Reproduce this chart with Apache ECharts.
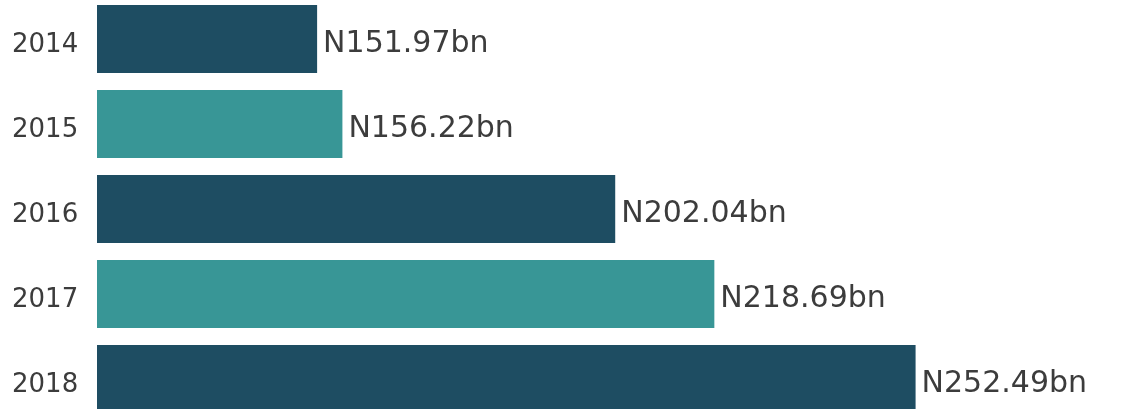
<!DOCTYPE html>
<html>
<head>
<meta charset="utf-8">
<script src="https://cdn.jsdelivr.net/npm/echarts@6/dist/echarts.min.js"></script>
<style>
  html, body { margin: 0; padding: 0; background: #fff; }
  #chart { width: 1127px; height: 409px; }
</style>
</head>
<body>
<div id="chart"></div>
<script>
  // years and amounts (billions)
  var years = ['2014', '2015', '2016', '2017', '2018'];
  var amounts = [151.97, 156.22, 202.04, 218.69, 252.49];
  var barColors = ['#1e4d62', '#389696', '#1e4d62', '#389696', '#1e4d62'];

  var chart = echarts.init(document.getElementById('chart'));

  var option = {
    animation: false,
    grid: {
      left: 97,
      right: 0,
      top: -3.5,
      bottom: -12.5,
      outerBoundsMode: 'none',
      containLabel: false
    },
    xAxis: {
      type: 'value',
      min: 115,
      max: 288,
      show: false
    },
    yAxis: {
      type: 'category',
      data: years,
      inverse: true,
      axisLine: { show: false },
      axisTick: { show: false },
      axisLabel: {
        align: 'left',
        margin: 85,
        formatter: '{y|{value}}',
        rich: {
          y: {
            color: '#3c3c3c',
            fontFamily: 'DejaVu Sans',
            fontSize: 26,
            padding: [12, 0, 0, 0]
          }
        }
      }
    },
    series: [
      {
        type: 'bar',
        barWidth: 68,
        data: amounts.map(function (v, i) {
          return { value: v, itemStyle: { color: barColors[i] } };
        }),
        label: {
          show: true,
          position: 'right',
          distance: 6,
          offset: [0, 5],
          color: '#3c3c3c',
          fontFamily: 'DejaVu Sans',
          fontSize: 30,
          formatter: function (p) {
            return 'N' + p.value.toFixed(2) + 'bn';
          }
        }
      }
    ]
  };

  chart.setOption(option);
</script>
</body>
</html>
